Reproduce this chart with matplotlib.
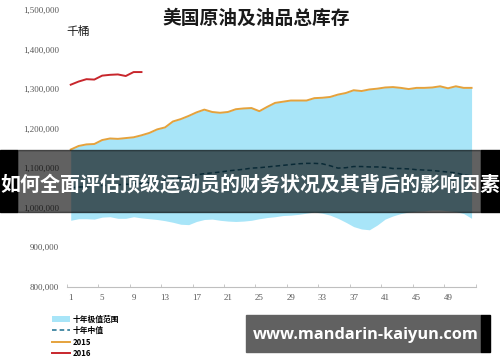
import matplotlib
matplotlib.use("Agg")
import matplotlib.pyplot as plt
from matplotlib.patches import Rectangle, Patch
from matplotlib.lines import Line2D
from matplotlib.ticker import FuncFormatter

# weekly total stocks, thousand barrels
weeks = list(range(1, 53))
stocks_2015 = [1147, 1156, 1160, 1161, 1171, 1175, 1174, 1176, 1178, 1183,
               1189, 1198, 1203, 1218, 1224, 1232, 1241, 1248, 1242, 1240,
               1242, 1249, 1251, 1252, 1244, 1255, 1265, 1268, 1271, 1271,
               1271, 1277, 1278, 1280, 1286, 1290, 1297, 1295, 1299, 1301,
               1304, 1305, 1303, 1300, 1303, 1303, 1304, 1307, 1302, 1307,
               1303, 1303]
weeks_2016 = list(range(1, 11))
stocks_2016 = [1311, 1319, 1325, 1324, 1334, 1336, 1337, 1333, 1343, 1343]
# ten-year range: 2015 itself was the high for every week
range_high = list(stocks_2015)
range_low = [968, 972, 972, 971, 976, 977, 973, 973, 977, 974,
             972, 970, 967, 963, 958, 957, 965, 970, 971, 968,
             966, 965, 966, 968, 972, 975, 977, 980, 981, 983,
             986, 989, 986, 981, 973, 963, 952, 946, 944, 956,
             971, 979, 985, 989, 991, 992, 994, 994, 992, 990,
             985, 973]
median_10y = [1050, 1052, 1053, 1055, 1056, 1057, 1058, 1059, 1060, 1061,
              1063, 1066, 1069, 1072, 1076, 1080, 1083, 1086, 1088, 1090,
              1093, 1095, 1097, 1100, 1101, 1103, 1105, 1107, 1109, 1111,
              1112, 1112, 1111, 1106, 1100, 1101, 1104, 1104, 1103, 1103,
              1102, 1099, 1099, 1098, 1096, 1095, 1094, 1092, 1090, 1088,
              1083, 1080]
xtick_weeks = list(range(1, 52, 4))
labels = ["十年极值范围", "十年中值", "2015", "2016"]

cjk = ["Noto Sans CJK SC", "DejaVu Sans"]
c_fill = "#a8e5f8"
c_2015 = "#e5a23c"
c_2016 = "#c8262c"
c_med = "#1b6f8f"

fig = plt.figure(figsize=(5.0, 3.62), dpi=100)
ax = fig.add_axes([66.8 / 500, 75.3 / 362, 408.7 / 500, 276.7 / 362])

k = lambda v: [x * 1000 for x in v]
ax.fill_between(weeks, k(range_low), k(range_high), color=c_fill, lw=0, zorder=1)
ax.plot(weeks, k(median_10y), color=c_med, lw=1.1, ls=(0, (3, 2)), zorder=2)
ax.plot(weeks, k(stocks_2015), color=c_2015, lw=1.4, zorder=3)
ax.plot(weeks_2016, k(stocks_2016), color=c_2016, lw=1.4, zorder=3)

ax.set_xlim(0.5, 52.5)
ax.set_ylim(800000, 1500000)
ax.set_yticks(range(800000, 1500001, 100000))
ax.yaxis.set_major_formatter(FuncFormatter(lambda v, p: f"{int(v):,}"))
ax.set_xticks(xtick_weeks)
ax.set_xticks([w - 0.5 for w in xtick_weeks] + [52.5], minor=True)
for s in ["top", "right", "left"]:
    ax.spines[s].set_visible(False)
ax.spines["bottom"].set_color("#bfbfbf")
ax.spines["bottom"].set_linewidth(0.8)
ax.tick_params(axis="y", length=0, pad=5.5, labelsize=6.5, labelcolor="#595959")
ax.tick_params(axis="x", which="major", length=0, pad=5, labelsize=6.5, labelcolor="#595959")
ax.tick_params(axis="x", which="minor", direction="in", length=2.5, color="#bfbfbf")
for t in ax.get_xticklabels() + ax.get_yticklabels():
    t.set_family("Liberation Serif")

fig.text(256 / 500, 1 - 18 / 362, "美国原油及油品总库存", family=cjk, fontsize=13.5,
         fontweight="bold", ha="center", va="center", color="#1a1a1a")
fig.text(66 / 500, 1 - 31 / 362, "千桶", family=cjk, fontsize=8.5,
         ha="left", va="center", color="#1a1a1a")

handles = [Patch(color=c_fill, lw=0),
           Line2D([], [], color=c_med, lw=1.1, ls=(0, (3, 2))),
           Line2D([], [], color=c_2015, lw=1.4),
           Line2D([], [], color=c_2016, lw=1.4)]
fig.legend(handles, labels, loc="upper left", bbox_to_anchor=(52 / 500, 1 - 314.5 / 362),
           frameon=False, prop={"family": cjk, "size": 5.6, "weight": "bold"},
           handlelength=2.3, handleheight=0.8, handletextpad=0.3,
           labelspacing=0.33, borderpad=0, borderaxespad=0)

# banner overlay across the middle
band_y = (362 - 212) / 362
band_h = 62 / 362
fig.patches.append(Rectangle((17 / 500, band_y), 464 / 500, band_h,
                             transform=fig.transFigure, color="black", alpha=0.62, zorder=5))
fig.patches.append(Rectangle((0, band_y), 17 / 500, band_h,
                             transform=fig.transFigure, color="black", zorder=5))
fig.patches.append(Rectangle((481 / 500, band_y), 19 / 500, band_h,
                             transform=fig.transFigure, color="black", zorder=5))
fig.text(250 / 500, 1 - 184 / 362, "如何全面评估顶级运动员的财务状况及其背后的影响因素",
         family=cjk, fontsize=14.4, fontweight="bold", color="white",
         ha="center", va="center", zorder=6)

# watermark box at bottom right
fig.patches.append(Rectangle((246 / 500, (362 - 352) / 362), 235 / 500, 37 / 362,
                             transform=fig.transFigure, color="#616161", zorder=5))
fig.patches.append(Rectangle((481 / 500, (362 - 352) / 362), 9 / 500, 37 / 362,
                             transform=fig.transFigure, color="black", zorder=5))
fig.text(366 / 500, 1 - 335 / 362, "www.mandarin-kaiyun.com", family="Open Sans",
         fontsize=11.8, fontweight="bold", color="white", ha="center", va="center", zorder=6)

fig.savefig("out.png", dpi=100)
